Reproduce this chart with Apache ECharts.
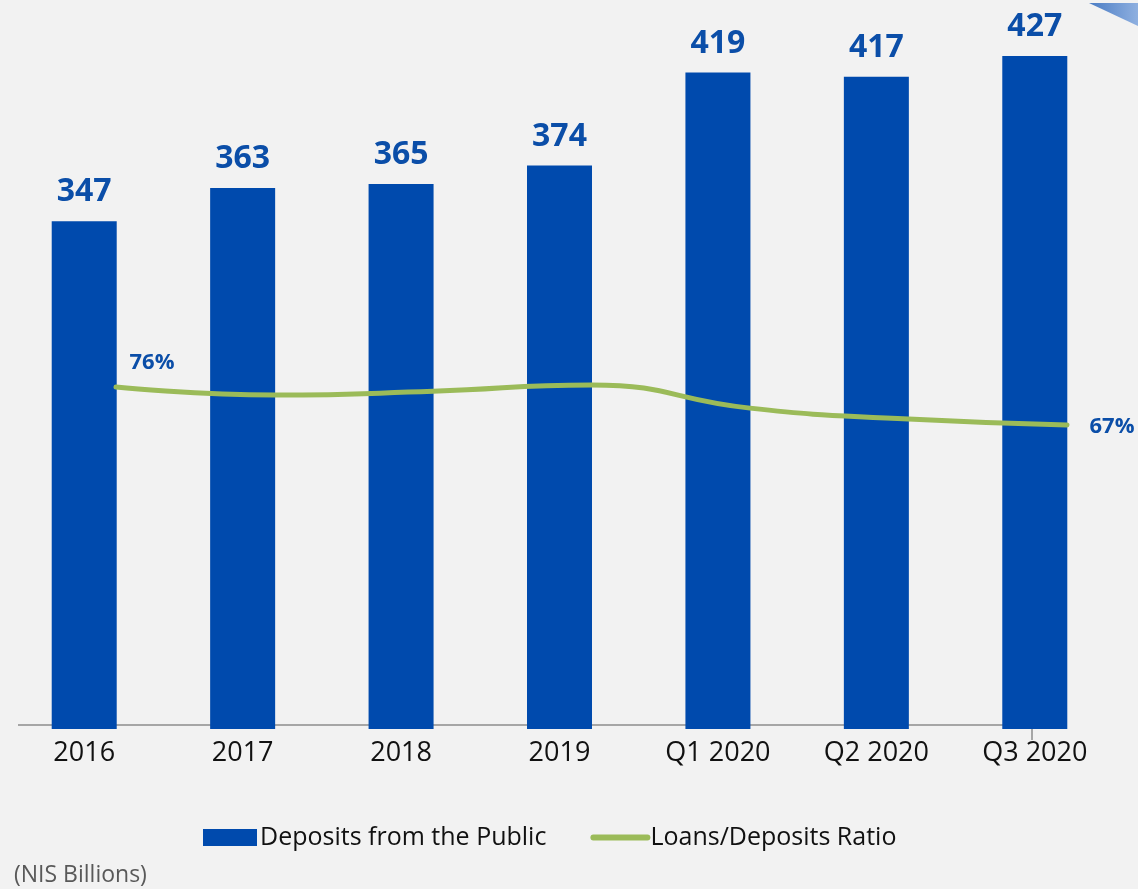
<!DOCTYPE html>
<html><head><meta charset="utf-8">
<script src="https://cdn.jsdelivr.net/npm/echarts@6/dist/echarts.min.js"></script>
<style>html,body{margin:0;padding:0;background:#f2f2f2;}#c{width:1138px;height:889px;}</style>
</head><body><div id="c"></div>
<script>
const categories = ['2016','2017','2018','2019','Q1 2020','Q2 2020','Q3 2020'];
const deposits = [347, 363, 365, 374, 419, 417, 427];
const ratio = [76, 74.1, 75, 76.5, 71, 68.4, 67];
const ratioLabels = ['76%', '', '', '', '', '', '67%'];

const blue = '#004aad';
const labelBlue = '#0b4ea8';
const green = '#9bbb59';
const font = '"Open Sans", "Noto Sans", sans-serif';

const chart = echarts.init(document.getElementById('c'));
chart.setOption({
  backgroundColor: '#f2f2f2',
  animation: false,
  grid: [
    {left: 5, right: 24, top: 56, bottom: 160},
    {left: 116, right: 71, top: 56, bottom: 160}
  ],
  legend: {
    left: 198, top: 820, itemWidth: 54, itemHeight: 17, itemGap: 44,
    textStyle: {fontFamily: font, fontSize: 25, color: '#111', padding: [0, 0, 0, -2]},
    data: [
      {name: 'Deposits from the Public', icon: 'rect'},
      {name: 'Loans/Deposits Ratio', itemStyle: {opacity: 0}, lineStyle: {width: 6, color: green, cap: 'round'}}
    ]
  },
  xAxis: [
    {type: 'category', gridIndex: 0, data: categories,
     axisLine: {show: false}, axisTick: {show: false},
     axisLabel: {fontFamily: font, fontSize: 27, color: '#111', margin: 11}},
    {type: 'category', gridIndex: 1, data: categories, boundaryGap: false, show: false}
  ],
  yAxis: [
    {type: 'value', gridIndex: 0, min: 101, max: 427, show: false, splitLine: {show: false}},
    {type: 'value', gridIndex: 1, min: -5, max: 154.4, show: false, splitLine: {show: false}}
  ],
  series: [
    {name: 'Deposits from the Public', type: 'bar', xAxisIndex: 0, yAxisIndex: 0,
     data: deposits, barWidth: 65, itemStyle: {color: blue},
     label: {show: true, position: 'top', distance: 13, color: labelBlue,
             fontFamily: font, fontWeight: 'bold', fontSize: 32}},
    {name: 'Loans/Deposits Ratio', type: 'line', xAxisIndex: 1, yAxisIndex: 1,
     smooth: 0.5, symbol: 'circle', symbolSize: 1, showSymbol: true,
     lineStyle: {color: green, width: 5, cap: 'round'},
     itemStyle: {color: green},
     data: ratio.map((v, i) => ({
       value: v,
       label: ratioLabels[i] ? {
         show: true, formatter: ratioLabels[i],
         position: i === 0 ? 'top' : 'right',
         offset: i === 0 ? [36, -8] : [17, 2],
         color: labelBlue, fontFamily: font, fontWeight: 'bold', fontSize: 22
       } : {show: false}
     }))}
  ],
  graphic: [
    {type: 'polyline', z: 1,
     shape: {points: [[18, 725], [1032, 725], [1032, 740]]},
     style: {stroke: '#a6a6a6', lineWidth: 2, fill: null}},
    {type: 'polygon', shape: {points: [[1089, 3], [1138, 3], [1138, 26]]},
     style: {fill: new echarts.graphic.LinearGradient(0, 0, 1, 0,
       [{offset: 0, color: '#4a7cc4'}, {offset: 1, color: '#8fb0e0'}])}},
    {type: 'text', left: 14, top: 864,
     style: {text: '(NIS Billions)', fontFamily: font, fontSize: 23, fill: '#595959'}}
  ]
});
</script></body></html>
